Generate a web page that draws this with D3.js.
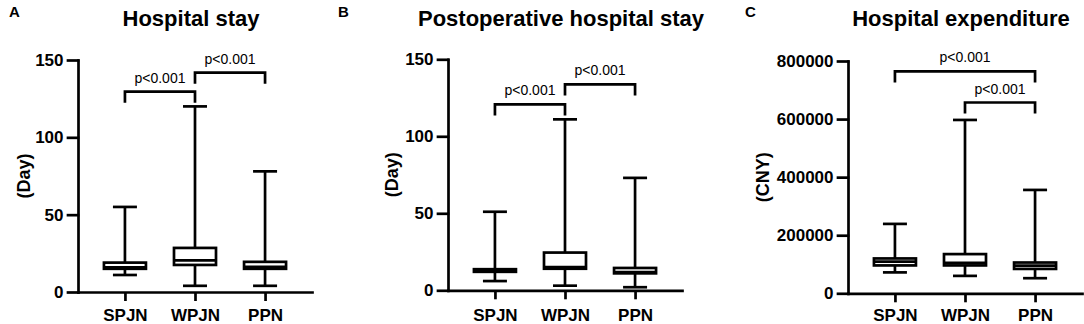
<!DOCTYPE html>
<html>
<head>
<meta charset="utf-8">
<script src="https://cdn.jsdelivr.net/npm/d3@7/dist/d3.min.js"></script>
<style>
  html, body { margin: 0; padding: 0; background: #fff; }
  svg { display: block; }
  text { font-family: "Liberation Sans", Arial, Helvetica, sans-serif; fill: #000; }
</style>
</head>
<body>
<svg id="chart" width="1084" height="324"></svg>
<script>
// ---------- DATA ----------
const categories = ["SPJN", "WPJN", "PPN"];

// Panel A: Hospital stay (Day)
const stayMin    = [11, 4, 4];
const stayQ1     = [15, 17.5, 15];
const stayMedian = [16, 20.5, 16.2];
const stayQ3     = [19, 28.5, 19.5];
const stayMax    = [55, 120, 78];
const stayTicks  = [0, 50, 100, 150];
const stayBracketFrom  = [0, 1];
const stayBracketTo    = [1, 2];
const stayBracketLevel = [129.5, 141.8];
const stayBracketLabel = ["p<0.001", "p<0.001"];

// Panel B: Postoperative hospital stay (Day)
const postMin    = [6, 3, 2];
const postQ1     = [12, 14, 11];
const postMedian = [12.8, 15, 11.8];
const postQ3     = [13.7, 24.5, 14.5];
const postMax    = [51, 111, 73];
const postTicks  = [0, 50, 100, 150];
const postBracketFrom  = [0, 1];
const postBracketTo    = [1, 2];
const postBracketLevel = [120.7, 133.7];
const postBracketLabel = ["p<0.001", "p<0.001"];

// Panel C: Hospital expenditure (CNY)
const costMin    = [72000, 60000, 52000];
const costQ1     = [96000, 96000, 84000];
const costMedian = [109000, 105000, 95000];
const costQ3     = [120000, 135000, 106000];
const costMax    = [239000, 597000, 356000];
const costTicks  = [0, 200000, 400000, 600000, 800000];
const costBracketFrom  = [0, 1];
const costBracketTo    = [2, 2];
const costBracketLevel = [764000, 657000];
const costBracketLabel = ["p<0.001", "p<0.001"];

// ---------- LAYOUT ----------
const panels = [
  { letter: "A", title: "Hospital stay", yLabel: "(Day)",
    min: stayMin, q1: stayQ1, med: stayMedian, q3: stayQ3, max: stayMax, ticks: stayTicks,
    bFrom: stayBracketFrom, bTo: stayBracketTo, bLevel: stayBracketLevel, bLabel: stayBracketLabel,
    letterX: 9, axisX: 78, y0: 292, yTop: 60, yLabelX: 24 },
  { letter: "B", title: "Postoperative hospital stay", yLabel: "(Day)",
    min: postMin, q1: postQ1, med: postMedian, q3: postQ3, max: postMax, ticks: postTicks,
    bFrom: postBracketFrom, bTo: postBracketTo, bLevel: postBracketLevel, bLabel: postBracketLabel,
    letterX: 338, axisX: 448, y0: 290.3, yTop: 59.3, yLabelX: 392 },
  { letter: "C", title: "Hospital expenditure", yLabel: "(CNY)",
    min: costMin, q1: costQ1, med: costMedian, q3: costQ3, max: costMax, ticks: costTicks,
    bFrom: costBracketFrom, bTo: costBracketTo, bLevel: costBracketLevel, bLabel: costBracketLabel,
    letterX: 745, axisX: 848, y0: 293.3, yTop: 61, yLabelX: 763 }
];

const LW = 2.7;
const axisLen = 234;
const boxW = 42;
const capW = 24;
const legLen = 11;

const svg = d3.select("#chart");

panels.forEach(p => {
  const g = svg.append("g");
  const yMax = p.ticks[p.ticks.length - 1];
  const y = d3.scaleLinear().domain([0, yMax]).range([p.y0, p.yTop]);
  const x = d3.scalePoint().domain(categories).range([p.axisX, p.axisX + axisLen]).padding(0.67);

  // panel letter
  g.append("text").attr("x", p.letterX).attr("y", 17)
    .attr("font-size", 15).attr("font-weight", "bold").text(p.letter);

  // title
  g.append("text").attr("x", p.axisX + 113).attr("y", 26)
    .attr("text-anchor", "middle").attr("font-size", 22).attr("font-weight", "bold").text(p.title);

  // y label
  g.append("text")
    .attr("transform", `translate(${p.yLabelX},${(p.y0 + p.yTop) / 2}) rotate(-90)`)
    .attr("text-anchor", "middle").attr("dy", "0.35em")
    .attr("font-size", 18).attr("font-weight", "bold").text(p.yLabel);

  // y axis
  const ya = g.append("g").attr("transform", `translate(${p.axisX},0)`)
    .call(d3.axisLeft(y).tickValues(p.ticks).tickSize(10).tickSizeOuter(0).tickPadding(4.5).tickFormat(d3.format("d")));
  ya.selectAll("path.domain").attr("stroke-width", LW).attr("stroke-linecap", "square");
  ya.selectAll(".tick line").attr("stroke-width", LW).attr("stroke-linecap", "square");
  ya.selectAll(".tick text").attr("font-size", 17).attr("font-weight", "bold")
    .attr("font-family", "Liberation Sans, Arial, sans-serif");

  // x axis
  const xa = g.append("g").attr("transform", `translate(0,${p.y0})`)
    .call(d3.axisBottom(x).tickSize(9).tickSizeOuter(0));
  xa.selectAll("path.domain").attr("stroke-width", LW).attr("stroke-linecap", "square");
  xa.selectAll(".tick line").attr("stroke-width", LW);
  xa.selectAll(".tick text").attr("font-size", 17).attr("font-weight", "bold")
    .attr("font-family", "Liberation Sans, Arial, sans-serif")
    .attr("y", 321 - p.y0).attr("dy", 0);

  // boxes
  categories.forEach((c, i) => {
    const cx = x(c);
    const bg = g.append("g").attr("stroke", "#000").attr("stroke-width", LW).attr("fill", "none");
    bg.append("line").attr("x1", cx).attr("x2", cx).attr("y1", y(p.max[i])).attr("y2", y(p.q3[i]));
    bg.append("line").attr("x1", cx).attr("x2", cx).attr("y1", y(p.q1[i])).attr("y2", y(p.min[i]));
    bg.append("line").attr("x1", cx - capW / 2).attr("x2", cx + capW / 2).attr("y1", y(p.max[i])).attr("y2", y(p.max[i]));
    bg.append("line").attr("x1", cx - capW / 2).attr("x2", cx + capW / 2).attr("y1", y(p.min[i])).attr("y2", y(p.min[i]));
    bg.append("rect").attr("x", cx - boxW / 2).attr("width", boxW)
      .attr("y", y(p.q3[i])).attr("height", y(p.q1[i]) - y(p.q3[i]))
      .attr("fill", "#fff");
    bg.append("line").attr("x1", cx - boxW / 2).attr("x2", cx + boxW / 2)
      .attr("y1", y(p.med[i])).attr("y2", y(p.med[i]));
  });

  // significance brackets
  p.bFrom.forEach((f, k) => {
    const x1 = x(categories[f]), x2 = x(categories[p.bTo[k]]);
    const yy = y(p.bLevel[k]);
    g.append("path")
      .attr("d", `M${x1},${yy + legLen}V${yy}H${x2}V${yy + legLen}`)
      .attr("fill", "none").attr("stroke", "#000").attr("stroke-width", LW)
      .attr("stroke-linejoin", "miter");
    g.append("text").attr("x", (x1 + x2) / 2).attr("y", yy - 9)
      .attr("text-anchor", "middle").attr("font-size", 14).text(p.bLabel[k]);
  });
});
</script>
</body>
</html>
